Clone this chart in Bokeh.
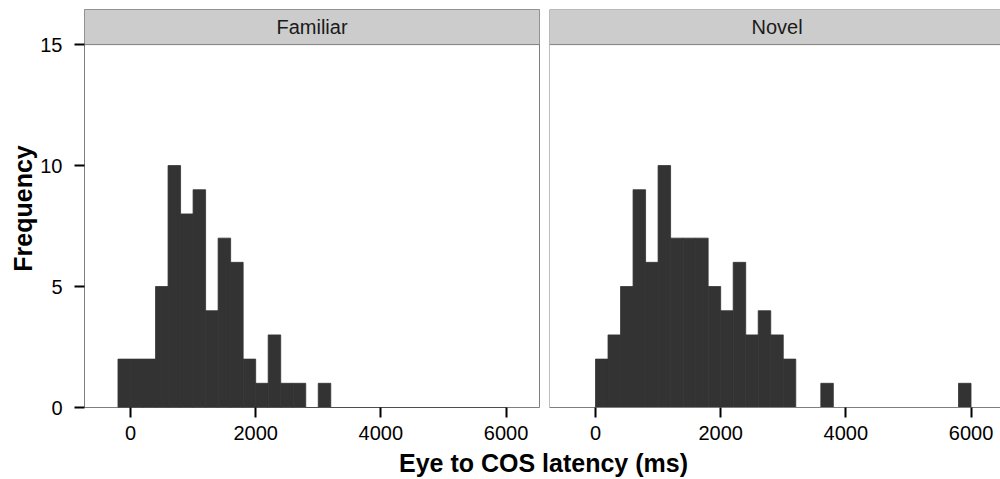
from bokeh.plotting import figure
from bokeh.models import ColumnDataSource, FixedTicker, Range1d, BoxAnnotation, Label, Span
from bokeh.layouts import column, row
from bokeh.embed import file_html
from bokeh.resources import INLINE

# Histogram bins: left edges (ms), 200 ms wide
bin_width = 200
bin_left = [-200, 0, 200, 400, 600, 800, 1000, 1200, 1400, 1600, 1800, 2000, 2200, 2400, 2600,
            2800, 3000, 3200, 3400, 3600, 3800, 4000, 4200, 4400, 4600, 4800, 5000, 5200, 5400,
            5600, 5800]

familiar_counts = [2, 2, 2, 5, 10, 8, 9, 4, 7, 6, 2, 1, 3, 1, 1, 0, 1, 0, 0, 0, 0, 0, 0, 0, 0,
                   0, 0, 0, 0, 0, 0]
novel_counts = [0, 2, 3, 5, 9, 6, 10, 7, 7, 7, 5, 4, 6, 3, 4, 3, 2, 0, 0, 1, 0, 0, 0, 0, 0,
                0, 0, 0, 0, 0, 1]

panels = ["Familiar", "Novel"]
x_ticks = [0, 2000, 4000, 6000]
y_ticks = [0, 5, 10, 15]

FONT = "Liberation Sans"
BAR = "#333333"
BORDER = "#7f7f7f"
STRIP = "#cccccc"

Y_TOP = 15          # top of the panel area
Y_END = 16.45       # extra room above the panel for the facet strip
X_START = -735
ROW_H = 448


def make_panel(name, counts, width, x_end, with_y_axis):
    p = figure(
        width=width, height=ROW_H,
        x_range=Range1d(X_START, x_end), y_range=Range1d(0, Y_END),
        y_axis_location="left" if with_y_axis else None,
        toolbar_location=None, output_backend="svg",
        min_border_top=9, min_border_bottom=41,
        min_border_left=84 if with_y_axis else 5,
        min_border_right=5 if with_y_axis else 0,
        background_fill_color="white", border_fill_color="white",
    )
    p.grid.visible = False

    src = ColumnDataSource(dict(
        left=bin_left,
        right=[b + bin_width for b in bin_left],
        top=counts,
    ))
    # thin same-colour stroke closes the seams between neighbouring bars
    p.quad(left="left", right="right", top="top", bottom=0, source=src,
           fill_color=BAR, line_color=BAR, line_width=0.8)

    # facet strip
    p.add_layout(BoxAnnotation(bottom=Y_TOP, fill_color=STRIP, fill_alpha=1, line_color=None,
                               level="underlay"))
    p.add_layout(Span(location=Y_TOP, dimension="width", line_color=BORDER, line_width=1))
    p.add_layout(Label(x=2900, y=(Y_TOP + Y_END) / 2, text=name, text_align="center",
                       text_baseline="middle", text_font=FONT, text_font_size="20px",
                       text_color="#1a1a1a"))

    xa = p.xaxis[0]
    xa.ticker = FixedTicker(ticks=x_ticks, minor_ticks=[])
    xa.major_tick_in = 0
    xa.major_tick_out = 10
    xa.major_tick_line_width = 2
    xa.major_tick_line_color = "black"
    xa.minor_tick_line_color = None
    xa.major_label_text_font = FONT
    xa.major_label_text_font_size = "20px"
    xa.major_label_text_color = "black"
    xa.major_label_standoff = 8

    if with_y_axis:
        p.outline_line_color = BORDER
        p.outline_line_width = 1
        xa.axis_line_color = None
        ya = p.yaxis[0]
        ya.ticker = FixedTicker(ticks=y_ticks, minor_ticks=[])
        ya.axis_line_color = None
        ya.major_tick_in = 0
        ya.major_tick_out = 10
        ya.major_tick_line_width = 2
        ya.major_tick_line_color = "black"
        ya.minor_tick_line_color = None
        ya.major_label_text_font = FONT
        ya.major_label_text_font_size = "20px"
        ya.major_label_text_color = "black"
        ya.major_label_standoff = 12
        ya.axis_label = "Frequency"
        ya.axis_label_text_font = FONT
        ya.axis_label_text_font_size = "25px"
        ya.axis_label_text_font_style = "bold"
        ya.axis_label_text_color = "black"
        ya.axis_label_standoff = 0
    else:
        # panel runs off the right edge: draw only left, top and bottom borders
        p.outline_line_color = None
        xa.axis_line_color = BORDER
        xa.axis_line_width = 1
        p.add_layout(Span(location=X_START, dimension="height", line_color=BORDER, line_width=1))
        p.add_layout(Span(location=Y_END, dimension="width", line_color=BORDER, line_width=1))
    return p


left = make_panel(panels[0], familiar_counts, 544, 6535, True)
right = make_panel(panels[1], novel_counts, 456, 6471, False)

# shared x-axis title under both panels
BOTTOM_H = 479 - ROW_H
bottom = figure(width=1000, height=BOTTOM_H, x_range=Range1d(0, 1000),
                y_range=Range1d(0, BOTTOM_H),
                x_axis_location=None, y_axis_location=None, toolbar_location=None,
                output_backend="svg", min_border=0, outline_line_color=None,
                background_fill_color="white", border_fill_color="white")
bottom.grid.visible = False
bottom.add_layout(Label(x=543, y=16.5, text="Eye to COS latency (ms)", text_align="center",
                        text_baseline="middle", text_font=FONT, text_font_size="25px",
                        text_font_style="bold", text_color="black"))

layout = column(row(left, right), bottom)

with open("out.html", "w") as f:
    f.write(file_html(layout, INLINE))
